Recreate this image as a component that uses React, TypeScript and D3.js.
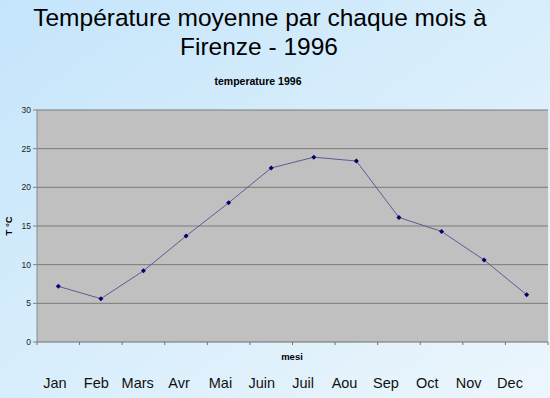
import React from 'react';
import * as d3 from 'd3';

// mois (axe du graphique) et températures moyennes lues
const months = ['Jan', 'Feb', 'Mars', 'Avr', 'Mai', 'Juin', 'Juil', 'Aou', 'Sep', 'Oct', 'Nov', 'Dec'];
const temps = [7.2, 5.6, 9.2, 13.7, 18.0, 22.5, 23.9, 23.4, 16.1, 14.3, 10.6, 6.1];
const yTicks = [0, 5, 10, 15, 20, 25, 30];

const W = 550;
const H = 398;
const margin = { top: 110, right: 2, bottom: 56, left: 37 };

const App: React.FC = () => {
  const innerW = W - margin.left - margin.right;
  const innerH = H - margin.top - margin.bottom;

  const x = d3.scaleBand().domain(months).range([0, innerW]);
  const y = d3.scaleLinear().domain([0, 30]).range([innerH, 0]);
  // étiquettes des mois posées sous le graphique (zone de texte séparée)
  const xLabel = d3.scalePoint().domain(months).range([55, 510]);

  const line = d3.line<number>()
    .x((_, i) => (x(months[i]) ?? 0) + x.bandwidth() / 2)
    .y(d => y(d));

  const font = 'Arial, "Liberation Sans", sans-serif';

  return (
    <div style={{ position: 'fixed', left: 0, top: 0 }}>
      <svg width={W} height={H} style={{ display: 'block' }} fontFamily={font}>
        <defs>
          <linearGradient id="bg" x1="0" y1="0" x2="1" y2="1">
            <stop offset="0%" stopColor="#c4e5fb" />
            <stop offset="100%" stopColor="#ecf6fc" />
          </linearGradient>
        </defs>
        <rect width={W} height={H} fill="url(#bg)" />

        {/* Titre */}
        <text x={260} y={26} textAnchor="middle" fontSize={24.5} fill="#000">
          Température moyenne par chaque mois à
        </text>
        <text x={259} y={55} textAnchor="middle" fontSize={24.5} fill="#000">
          Firenze - 1996
        </text>
        <text x={258} y={85} textAnchor="middle" fontSize={10.5} fontWeight="bold" fill="#000">
          temperature 1996
        </text>

        <g transform={`translate(${margin.left},${margin.top})`}>
          <rect width={innerW} height={innerH} fill="#c0c0c0" />

          {yTicks.map(t => (
            <g key={t} transform={`translate(0,${y(t)})`}>
              {t > 0 && <line x1={0} x2={innerW} stroke="#7a7a7a" strokeWidth={1} />}
              <line x1={-4} x2={0} stroke="#808080" />
              <text x={-6} dy="0.35em" textAnchor="end" fontSize={8.5} fill="#222">
                {t}
              </text>
            </g>
          ))}

          <line x1={0} x2={0} y1={0} y2={innerH} stroke="#8a8a8a" />
          <line x1={0} x2={innerW} y1={innerH} y2={innerH} stroke="#707070" />
          {months.map(m => (
            <line
              key={m}
              x1={x(m) ?? 0}
              x2={x(m) ?? 0}
              y1={innerH}
              y2={innerH + 3}
              stroke="#707070"
            />
          ))}
          <line x1={innerW} x2={innerW} y1={innerH} y2={innerH + 3} stroke="#707070" />

          <path d={line(temps) ?? ''} fill="none" stroke="#5c5c96" strokeWidth={1} />
          {temps.map((v, i) => {
            const cx = (x(months[i]) ?? 0) + x.bandwidth() / 2;
            const cy = y(v);
            return (
              <path
                key={i}
                d={`M${cx},${cy - 2.5}L${cx + 2.5},${cy}L${cx},${cy + 2.5}L${cx - 2.5},${cy}Z`}
                fill="#000070"
              />
            );
          })}
        </g>

        <text
          transform={`translate(12,${margin.top + innerH / 2}) rotate(-90)`}
          textAnchor="middle"
          fontSize={9.5}
          fontWeight="bold"
          fill="#000"
        >
          T °C
        </text>
        <text x={292} y={360} textAnchor="middle" fontSize={9.5} fontWeight="bold" fill="#000">
          mesi
        </text>

        {months.map(m => (
          <text key={m} x={xLabel(m)} y={388} textAnchor="middle" fontSize={14.5} fill="#111">
            {m}
          </text>
        ))}
      </svg>
    </div>
  );
};

export default App;
